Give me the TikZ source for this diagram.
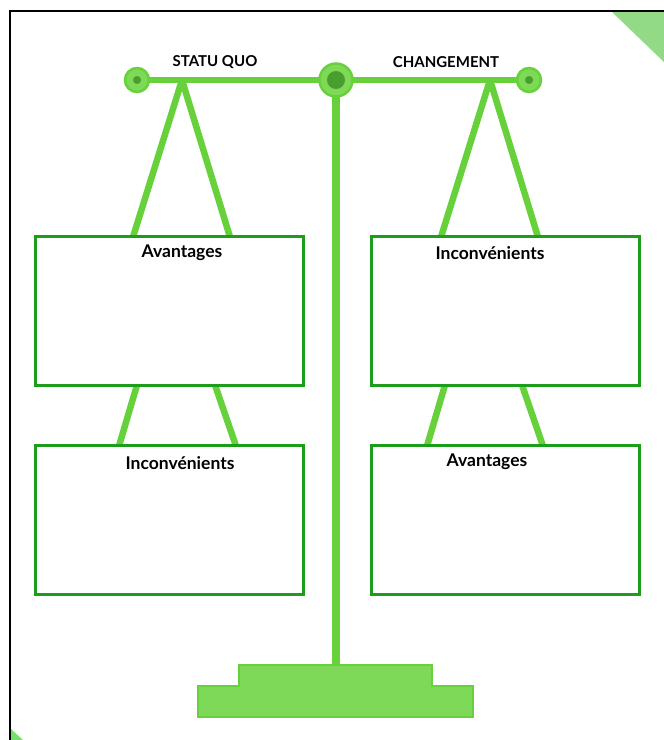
\documentclass[tikz,border=0pt]{standalone}
\usepackage{fontspec}
\setmainfont{Lato}
\begin{document}
\begin{tikzpicture}[x=1pt,y=-1pt,
  leg/.style={line width=6.5pt,draw=beamgreen},
  beam/.style={line width=6pt,draw=beamgreen},
  panel/.style={draw=boxgreen,line width=3pt,fill=white,minimum width=268pt,minimum height=149pt,inner sep=0pt},
  lbl/.style={font=\bfseries\fontsize{17.5}{19}\selectfont,inner sep=0pt,text=black},
  toplbl/.style={font=\bfseries\fontsize{15}{17}\selectfont,inner sep=0pt,text=black},
  ring/.style={circle,draw=beamgreen,line width=2.5pt,fill=ringfill,inner sep=0pt},
  dot/.style={circle,fill=dotgreen,inner sep=0pt},
  basepart/.style={fill=basefill,draw=beamgreen,line width=1.5pt}
]
\definecolor{beamgreen}{HTML}{66D13A}
\definecolor{boxgreen}{HTML}{1C9E1C}
\definecolor{ringfill}{HTML}{7ED957}
\definecolor{dotgreen}{HTML}{4A9E2E}
\definecolor{basefill}{HTML}{7DD957}
\definecolor{cornergreen}{HTML}{92DA86}
\useasboundingbox (0,0) rectangle (664,740);
% frame and corners
\fill[cornergreen] (612,12) -- (664,12) -- (664,62) -- cycle;
\fill[cornergreen!80!green] (11,729) -- (11,740) -- (23,740) -- cycle;
\draw[line width=1.5pt,black] (10,740) -- (10,11) -- (664,11);
% apex coordinates
\coordinate (la) at (182,80);
\coordinate (ra) at (490,80);
% boxes (positions)
\path (169,311) coordinate (b1c) (169,520) coordinate (b2c)
      (505,311) coordinate (b3c) (505,520) coordinate (b4c);
% legs upper
\draw[leg] (la) -- (133,237);
\draw[leg] (la) -- (230,237);
\draw[leg] (ra) -- (441,237);
\draw[leg] (ra) -- (538,237);
% legs lower
\draw[leg] (137,385) -- (119,446);
\draw[leg] (215,385) -- (236,446);
\draw[leg] (445,385) -- (427,446);
\draw[leg] (522,385) -- (543,446);
% pole and base
\coordinate (pt) at (336,80);
\coordinate (pb) at (336,666);
\draw[line width=8pt,draw=beamgreen] (pt) -- (pb);
\draw[basepart] (239,665) rectangle (432,687);
\draw[basepart] (198,686) rectangle (473,717);
\fill[basefill] (240,684) rectangle (431,689);
% beam
\coordinate (bl) at (137,80);
\coordinate (br) at (529,80);
\draw[beam] (bl) -- (br);
\node[ring,minimum size=24pt] (cl) at (bl) {};
\node[dot,minimum size=8pt] at (cl) {};
\node[ring,minimum size=24pt] (cr) at (br) {};
\node[dot,minimum size=8pt] at (cr) {};
\node[ring,minimum size=33pt] (cc) at (pt) {};
\node[dot,minimum size=18pt] at (cc) {};
% panels
\node[panel] (b1) at (b1c) {};
\node[panel] (b2) at (b2c) {};
\node[panel] (b3) at (b3c) {};
\node[panel] (b4) at (b4c) {};
% labels
\node[toplbl] (t1) at (215,62) {STATU QUO};
\node[toplbl] (t2) at (446,62) {CHANGEMENT};
\node[lbl] (l1) at (182,253) {Avantages};
\node[lbl] (l2) at (180,463) {Inconvénients};
\node[lbl] (l3) at (490,253) {Inconvénients};
\node[lbl] (l4) at (487,462) {Avantages};
\end{tikzpicture}
\end{document}
